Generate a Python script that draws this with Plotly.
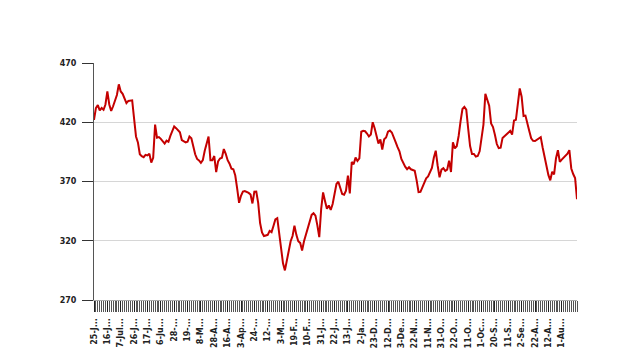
import plotly.graph_objects as go

values = [
    422, 432, 434.5, 430, 432, 430.5, 435, 446, 435, 429.5,
    433.5, 438, 443, 452, 446, 444, 440, 436.2, 438, 438,
    438.5, 423, 408, 403, 393, 391.3, 390.5, 392.5, 392, 393.5,
    386, 390, 418, 407, 407.5, 406, 403.5, 402, 404.5, 403.5,
    408.5, 412, 416.5, 415, 412.7, 411.5, 405, 403.7, 403, 403.5,
    408, 406.5, 399, 393, 389, 387.8, 385.8, 388, 396, 402,
    408, 388, 388, 391.5, 378, 387, 389.4, 390, 397.4, 393.4,
    388, 385, 380.8, 380.3, 375, 364, 352, 358, 361.5, 362,
    361.4, 360.4, 359, 351.5, 361.4, 361.5, 352, 335, 327, 324,
    324.5, 325, 328.3, 327.3, 332.5, 338, 339, 326, 315, 301,
    295, 303, 309.4, 319.6, 324, 332.7, 325, 319.6, 318.2, 311.8,
    319.6, 325.5, 330.8, 337.3, 341.8, 343.2, 341.2, 333, 323, 346.9,
    360.8, 353.6, 347, 349.8, 346, 351, 360, 367.9, 369.8, 364.2,
    359.5, 358.8, 362.3, 375, 360, 386.5, 384.5, 390.3, 387.3, 389.5,
    412, 412.8, 412.4, 410.5, 408, 409.6, 420, 415, 407, 402,
    405.5, 397, 405.6, 407.1, 412, 413, 411.4, 407.9, 403.2, 399,
    395.5, 389, 385, 382.5, 380.4, 382, 380.3, 379.7, 379, 371,
    361, 361.2, 365, 370.4, 372.7, 374.2, 378.5, 381.5, 390, 396,
    383.5, 373.5, 380, 381.2, 379, 380, 387.5, 378, 403, 398,
    399.8, 408.4, 420.7, 431.2, 433, 430.7, 414.7, 399.9, 393.2, 393.2,
    391.1, 391.5, 395.5, 406, 418, 444, 439, 434, 419, 416,
    409.5, 401.6, 398.1, 398.5, 406.8, 408.4, 409.2, 411, 412.7, 409.6,
    421.4, 422, 437.5, 448.5, 441.5, 425.2, 425.6, 418, 412.7, 406.4,
    404.3, 404.2, 405.2, 405.9, 407.4, 398.7, 391, 383, 375.6, 371,
    378.2, 376, 389.6, 396.4, 386.6, 388.5, 390, 391.5, 393.5, 396.5,
    381, 376.3, 373, 355,
]

tick_labels = [
    "25-J...", "16-J...", "7-Jul...", "26-J...", "17-J...", "6-Ju...",
    "28-...", "19-...", "8-M...", "28-A...", "16-A...", "3-Ap...",
    "24-...", "12-...", "3-M...", "19-F...", "10-F...", "31-J...",
    "22-J...", "13-J...", "2-Ja...", "23-D...", "12-D...", "3-De...",
    "22-N...", "11-N...", "31-O...", "22-O...", "11-O...", "1-Oc...",
    "20-S...", "11-S...", "2-Se...", "22-A...", "12-A...", "1-Au...",
]

y_ticks = [270, 320, 370, 420, 470]
label_step = 7

x = list(range(len(values)))
tick_positions = x[::label_step][:len(tick_labels)]

fig = go.Figure()
fig.add_trace(go.Scatter(
    x=x, y=values, mode="lines",
    line=dict(color="#c40000", width=2),
    hoverinfo="skip",
))

font = dict(family="DejaVu Sans", size=8, color="#222", weight="bold")

fig.update_layout(
    width=620, height=364,
    margin=dict(l=86, r=51, t=55, b=72),
    paper_bgcolor="white", plot_bgcolor="white",
    showlegend=False,
    font=font,
)
fig.update_xaxes(
    range=[0, len(values) - 1],
    tickmode="array", tickvals=tick_positions, ticktext=tick_labels,
    tickangle=-90, tickfont=font,
    ticks="outside", ticklen=11, tickcolor="#222", tickwidth=1,
    ticklabelstandoff=3,
    showgrid=False, zeroline=False,
    showline=True, linecolor="#aaa", linewidth=1,
    minor=dict(tickmode="linear", tick0=0, dtick=1, ticks="outside",
               ticklen=11, tickcolor="#555", tickwidth=1, showgrid=False),
)
fig.update_yaxes(
    range=[y_ticks[0], y_ticks[-1]],
    tickmode="array", tickvals=y_ticks,
    tickfont=font,
    ticks="outside", ticklen=11, tickcolor="#333", tickwidth=1,
    ticklabelstandoff=4,
    showgrid=True, gridcolor="#d6d6d6", gridwidth=1,
    zeroline=False,
    showline=True, linecolor="#555", linewidth=1,
)

fig.write_html("out.html")
